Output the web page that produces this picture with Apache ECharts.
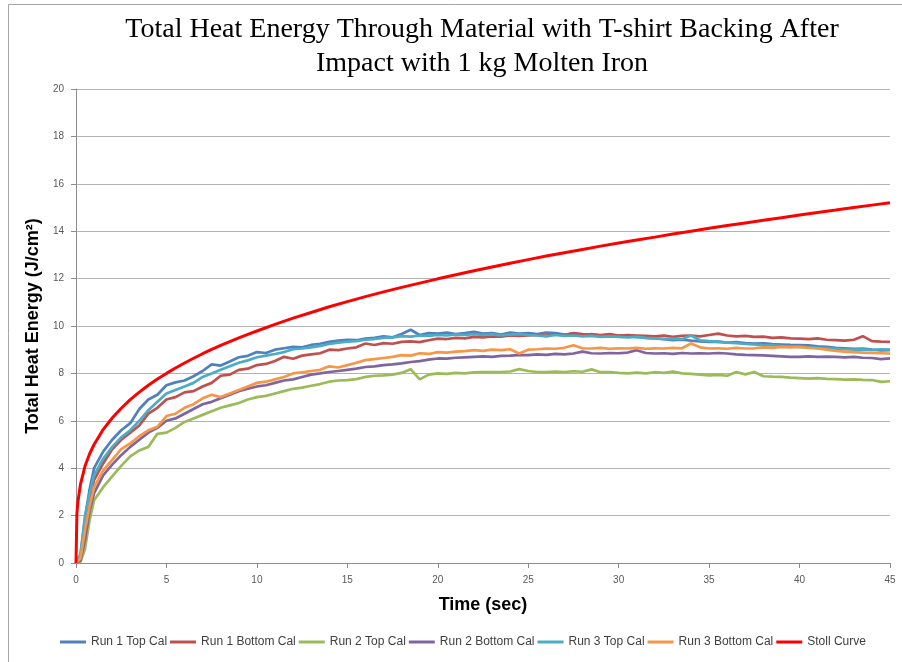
<!DOCTYPE html>
<html>
<head>
<meta charset="utf-8">
<script src="https://cdn.jsdelivr.net/npm/echarts@6/dist/echarts.min.js"></script>
<style>
html,body{margin:0;padding:0;background:#fff;}
#chart{width:902px;height:662px;}
</style>
</head>
<body>
<div id="chart"></div>
<script>
var titleText = 'Total Heat Energy Through Material with T-shirt Backing After\nImpact with 1 kg Molten Iron';
var xAxisName = 'Time (sec)';
var yAxisName = 'Total Heat Energy (J/cm²)';
var seriesNames = ['Run 1 Top Cal','Run 1 Bottom Cal','Run 2 Top Cal','Run 2 Bottom Cal','Run 3 Top Cal','Run 3 Bottom Cal','Stoll Curve'];
var seriesColors = ['#4F81BD','#C0504D','#9BBB59','#8064A2','#4BACC6','#F79646','#FF0000'];

var runTimes = [0,0.25,0.5,0.75,1,
1.5,2,2.5,3,3.5,4,4.5,5,
5.5,6,6.5,7,7.5,8,8.5,9,9.5,10,
10.5,11,11.5,12,12.5,13,13.5,14,14.5,15,
15.5,16,16.5,17,17.5,18,18.5,19,19.5,20,
20.5,21,21.5,22,22.5,23,23.5,24,24.5,25,
25.5,26,26.5,27,27.5,28,28.5,29,29.5,30,
30.5,31,31.5,32,32.5,33,33.5,34,34.5,35,
35.5,36,36.5,37,37.5,38,38.5,39,39.5,40,
40.5,41,41.5,42,42.5,43,43.5,44,44.5,45];

var run1Top = [0,0.3,1.9,3.1,4.0,
4.7,5.2,5.6,5.9,6.5,6.9,7.1,7.5,
7.62,7.7,7.88,8.1,8.38,8.33,8.5,8.68,8.74,8.9,
8.86,9.0,9.06,9.12,9.1,9.2,9.25,9.33,9.38,9.42,
9.4,9.47,9.5,9.56,9.52,9.66,9.84,9.62,9.7,9.68,
9.72,9.66,9.7,9.75,9.68,9.7,9.64,9.72,9.68,9.7,
9.66,9.72,9.7,9.64,9.68,9.62,9.66,9.6,9.62,9.58,
9.58,9.54,9.5,9.48,9.44,9.4,9.42,9.38,9.35,9.33,
9.34,9.3,9.32,9.28,9.26,9.27,9.24,9.22,9.2,9.19,
9.18,9.14,9.12,9.08,9.06,9.04,9.05,9.0,8.97,8.98];

var run1Bottom = [0,0.2,1.6,2.7,3.5,
4.2,4.8,5.2,5.5,5.8,6.3,6.55,6.9,
7.0,7.2,7.25,7.45,7.6,7.9,7.95,8.15,8.2,8.35,
8.4,8.52,8.7,8.62,8.75,8.8,8.85,9.0,8.98,9.05,
9.1,9.26,9.2,9.28,9.25,9.33,9.35,9.32,9.4,9.47,
9.45,9.5,9.48,9.54,9.52,9.56,9.55,9.6,9.58,9.6,
9.62,9.6,9.65,9.62,9.7,9.66,9.64,9.62,9.66,9.6,
9.62,9.6,9.58,9.56,9.6,9.54,9.58,9.6,9.56,9.62,
9.68,9.6,9.56,9.58,9.54,9.55,9.5,9.52,9.48,9.47,
9.45,9.48,9.42,9.4,9.38,9.42,9.57,9.36,9.34,9.33];

var run2Top = [0,0.05,0.6,1.8,2.65,
3.2,3.65,4.1,4.5,4.75,4.9,5.45,5.5,
5.7,5.95,6.1,6.25,6.4,6.55,6.65,6.75,6.9,7.0,
7.05,7.15,7.25,7.35,7.4,7.48,7.55,7.65,7.7,7.72,
7.76,7.85,7.9,7.92,7.95,8.02,8.18,7.75,7.95,8.0,
7.98,8.02,8.0,8.04,8.06,8.05,8.06,8.08,8.18,8.1,
8.06,8.05,8.08,8.06,8.09,8.07,8.17,8.05,8.06,8.02,
8.0,8.03,8.0,8.05,8.02,8.08,8.0,7.98,7.95,7.92,
7.94,7.9,8.06,7.96,8.06,7.88,7.86,7.85,7.82,7.8,
7.78,7.8,7.77,7.76,7.74,7.75,7.73,7.72,7.64,7.67];

var run2Bottom = [0,0.1,1.0,2.2,2.95,
3.7,4.15,4.55,4.9,5.2,5.5,5.7,6.0,
6.1,6.3,6.5,6.7,6.8,6.95,7.1,7.25,7.35,7.45,
7.5,7.6,7.7,7.75,7.85,7.95,8.0,8.06,8.1,8.15,
8.2,8.27,8.3,8.35,8.38,8.42,8.48,8.52,8.58,8.63,
8.62,8.66,8.68,8.7,8.72,8.7,8.74,8.75,8.77,8.77,
8.8,8.78,8.82,8.8,8.84,8.92,8.85,8.84,8.86,8.85,
8.88,8.98,8.86,8.84,8.85,8.82,8.86,8.84,8.85,8.84,
8.86,8.84,8.8,8.78,8.77,8.76,8.74,8.72,8.7,8.7,
8.72,8.7,8.71,8.7,8.68,8.7,8.66,8.65,8.6,8.63];

var run3Top = [0,0.4,2.0,2.9,3.7,
4.4,4.9,5.3,5.6,6.0,6.45,6.8,7.15,
7.3,7.45,7.6,7.85,8.0,8.15,8.3,8.45,8.55,8.68,
8.75,8.82,8.9,9.02,9.05,9.1,9.16,9.24,9.3,9.34,
9.36,9.42,9.45,9.5,9.52,9.57,9.55,9.6,9.58,9.62,
9.6,9.64,9.62,9.66,9.62,9.65,9.6,9.64,9.66,9.62,
9.6,9.56,9.62,9.58,9.6,9.56,9.58,9.54,9.56,9.54,
9.52,9.54,9.5,9.48,9.46,9.47,9.44,9.6,9.4,9.36,
9.33,9.3,9.28,9.24,9.22,9.19,9.18,9.15,9.14,9.12,
9.1,9.08,9.06,9.04,9.02,9.0,9.01,8.98,9.02,9.0];

var run3Bottom = [0,0.2,1.4,2.4,3.2,
3.9,4.35,4.8,5.05,5.35,5.6,5.75,6.2,
6.3,6.55,6.7,6.95,7.1,7.0,7.15,7.3,7.45,7.6,
7.65,7.75,7.85,8.0,8.05,8.1,8.15,8.3,8.25,8.35,
8.45,8.56,8.6,8.65,8.7,8.77,8.75,8.85,8.82,8.9,
8.88,8.92,8.94,8.98,8.95,9.0,8.98,9.02,8.84,9.0,
9.02,9.05,9.04,9.08,9.19,9.06,9.05,9.08,9.04,9.06,
9.05,9.08,9.04,9.06,9.05,9.08,9.06,9.26,9.1,9.05,
9.06,9.04,9.08,9.05,9.06,9.1,9.08,9.12,9.1,9.12,
9.08,9.05,9.0,8.95,8.92,8.9,8.88,8.86,8.85,8.84];

var stollTimes = [0,0.05,0.1,0.25,0.5,0.75,1,1.5,2,2.5,3,3.5,4,4.5,5,5.5,6,6.5,7,7.5,8,8.5,9,9.5,10,
11,12,13,14,15,16,17,18,19,20,21,22,23,24,25,26,27,28,29,30,31,32,33,34,35,36,37,38,39,40,41,42,43,44,45];
var stollCurve = [0,2.08,2.55,3.33,4.09,4.6,5.0,5.63,6.12,6.53,6.89,7.21,7.5,7.76,8.0,8.23,8.44,8.64,8.83,9.01,9.18,9.34,9.5,9.65,9.79,
10.07,10.33,10.57,10.81,11.03,11.24,11.44,11.63,11.81,11.99,12.16,12.33,12.49,12.65,12.8,12.95,13.09,13.23,13.37,13.5,13.63,13.75,13.88,14.0,14.12,14.24,14.35,14.46,14.57,14.68,14.79,14.89,15.0,15.1,15.2];

var runValues = [run1Top, run1Bottom, run2Top, run2Bottom, run3Top, run3Bottom];

function pairs(ts, vs) {
  var out = [];
  for (var i = 0; i < ts.length && i < vs.length; i++) out.push([ts[i], vs[i]]);
  return out;
}

var series = [];
for (var k = 0; k < runValues.length; k++) {
  series.push({
    name: seriesNames[k], type: 'line', showSymbol: false, symbol: 'none',
    data: pairs(runTimes, runValues[k]),
    lineStyle: { width: 2.7, color: seriesColors[k] },
    itemStyle: { color: seriesColors[k] },
    z: 2
  });
}
series.push({
  name: seriesNames[6], type: 'line', showSymbol: false, symbol: 'none',
  data: pairs(stollTimes, stollCurve),
  lineStyle: { width: 3, color: seriesColors[6] },
  itemStyle: { color: seriesColors[6] },
  z: 3
});

var chart = echarts.init(document.getElementById('chart'), null, { renderer: 'canvas' });
chart.setOption({
  animation: false,
  backgroundColor: '#ffffff',
  graphic: [{
    type: 'rect', left: 6, top: 2, silent: true,
    shape: { x: 0, y: 0, width: 920, height: 658 },
    style: { fill: 'none', stroke: '#a6a6a6', lineWidth: 1 },
    z: -10
  }],
  title: {
    text: titleText,
    left: 477, top: 8, textAlign: 'center',
    textStyle: { fontFamily: 'Liberation Serif', fontSize: 28, fontWeight: 'normal', color: '#000', lineHeight: 34 }
  },
  legend: {
    bottom: 9, left: 55,
    icon: 'rect', itemWidth: 26, itemHeight: 3, itemGap: 3,
    textStyle: { fontFamily: 'Liberation Sans', fontSize: 12, color: '#404040' },
    data: seriesNames
  },
  grid: { left: 76, right: 12, top: 89, bottom: 99, containLabel: false },
  xAxis: {
    type: 'value', min: 0, max: 45, interval: 5,
    name: xAxisName, nameLocation: 'middle', nameGap: 33,
    nameTextStyle: { fontFamily: 'Liberation Sans', fontSize: 18, fontWeight: 'bold', color: '#000' },
    axisLine: { show: true, lineStyle: { color: '#8c8c8c', width: 1 } },
    axisTick: { show: true, length: 5, lineStyle: { color: '#8c8c8c' } },
    axisLabel: { margin: 12, fontFamily: 'Liberation Sans', fontSize: 10, color: '#595959' },
    splitLine: { show: false }
  },
  yAxis: {
    type: 'value', min: 0, max: 20, interval: 2,
    name: yAxisName, nameLocation: 'middle', nameGap: 28,
    nameTextStyle: { fontFamily: 'Liberation Sans', fontSize: 18, fontWeight: 'bold', color: '#000' },
    axisLine: { show: true, lineStyle: { color: '#8c8c8c', width: 1 } },
    axisTick: { show: true, length: 5, lineStyle: { color: '#8c8c8c' } },
    axisLabel: { margin: 12, fontFamily: 'Liberation Sans', fontSize: 10, color: '#595959' },
    splitLine: { show: true, lineStyle: { color: '#b3b3b3', width: 1 } }
  },
  series: series
});
</script>
</body>
</html>
